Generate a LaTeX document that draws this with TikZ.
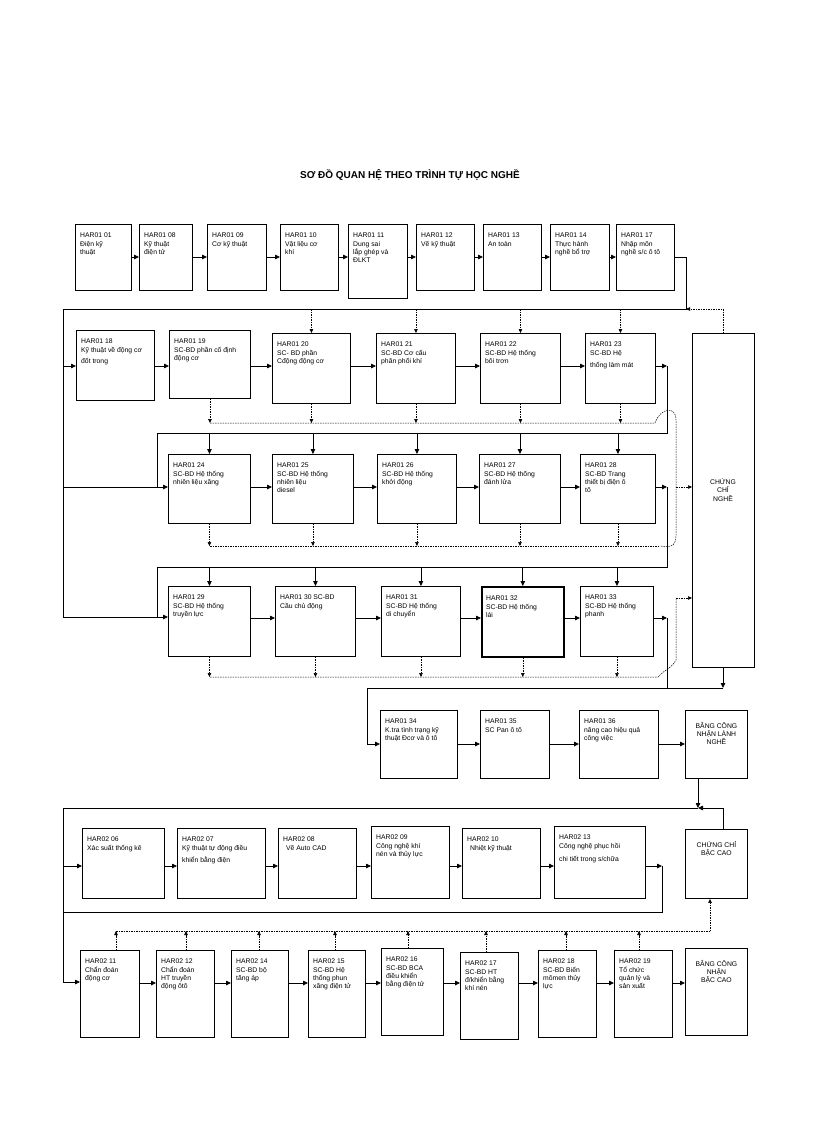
\documentclass[tikz,border=0pt]{standalone}
\usepackage{fontspec}
\setmainfont{Liberation Sans}
\usetikzlibrary{arrows.meta}
\tikzset{
  bx/.style={draw,line width=0.9pt,inner sep=0pt},
  txt/.style={inner sep=0pt,font=\fontsize{6.8}{8.2}\selectfont},
  ar/.style={line width=0.8pt,-{Triangle[length=5pt,width=4.5pt]}},
  ln/.style={line width=0.8pt},
  dsh/.style={line width=0.5pt,dash pattern=on 1.5pt off 1pt},
  dar/.style={dsh,-{Triangle[length=4pt,width=3.5pt]}},
}
\newcommand\bx[6]{%
  \node[bx,minimum width={(#4-#2)*1pt},minimum height={(#5-#3)*1pt},anchor=north west] (#1) at (#2,#3) {};
  \node[txt,anchor=north west] (#1t) at ([xshift=5pt,yshift=-9pt]#1.north west)
     {\parbox{\dimexpr #4pt-#2pt-7pt\relax}{\raggedright #6}};}
\newcommand\bxc[6]{%
  \node[bx,minimum width={(#4-#2)*1pt},minimum height={(#5-#3)*1pt},anchor=north west] (#1) at (#2,#3) {};
  \node[txt,anchor=north,align=center] (#1t) at ([yshift=-12pt]#1.north) {#6};}
\begin{document}
\begin{tikzpicture}[x=1pt,y=-1pt]
\useasboundingbox (0,0) rectangle (816,1123);
\node[font=\bfseries\fontsize{10}{12}\selectfont] (title) at (410,175) {SƠ ĐỒ QUAN HỆ THEO TRÌNH TỰ HỌC NGHỀ};

% Row 1
\bx{r1}{75}{224}{131}{290}{HAR01 01\\Điện kỹ\\thuật}
\bx{r2}{139}{224}{192}{290}{HAR01 08\\Kỹ thuật\\điện tử}
\bx{r3}{207}{224}{266}{290}{HAR01 09\\Cơ kỹ thuật}
\bx{r4}{280}{224}{338}{290}{HAR01 10\\Vật liệu cơ\\khí}
\bx{r5}{348}{224}{407}{298}{HAR01 11\\Dung sai\\lắp ghép và\\ĐLKT}
\bx{r6}{416}{224}{474}{290}{HAR01 12\\Vẽ kỹ thuật}
\bx{r7}{483}{224}{541}{290}{HAR01 13\\An toàn}
\bx{r8}{550}{224}{609}{290}{HAR01 14\\Thực hành\\nghề bổ trợ}
\bx{r9}{616}{224}{674}{290}{HAR01 17\\Nhập môn\\nghề s/c ô tô}
\foreach \a/\b in {r1/r2,r2/r3,r3/r4,r4/r5,r5/r6,r6/r7,r7/r8,r8/r9}
  \draw[ar] (\a.east|-0,257) -- (\b.west|-0,257);

% Row 2
\bx{s1}{76}{330}{154}{400}{HAR01 18\\Kỹ thuật về động cơ\\[3pt]đốt trong}
\bx{s2}{169}{330}{250}{398}{HAR01 19\\SC-BD phần cố định\\động cơ}
\bx{s3}{272}{333}{350}{403}{HAR01 20\\SC- BD phần\\Cđộng động cơ}
\bx{s4}{376}{333}{455}{403}{HAR01 21\\SC-BD Cơ cấu\\phân phối khí}
\bx{s5}{480}{333}{560}{403}{HAR01 22\\SC-BD Hệ thống\\bôi trơn}
\bx{s6}{585}{333}{655}{403}{HAR01 23\\SC-BD Hệ\\[4pt]thống làm mát}
\foreach \a/\b in {s1/s2,s2/s3,s3/s4,s4/s5,s5/s6}
  \draw[ar] (\a.east|-0,366) -- (\b.west|-0,366);

% Row 3
\bx{t1}{168}{454}{250}{523}{HAR01 24\\SC-BD Hệ thống\\nhiên liệu xăng}
\bx{t2}{272}{454}{353}{523}{HAR01 25\\SC-BD Hệ thống\\nhiên liệu\\diesel}
\bx{t3}{377}{454}{456}{523}{HAR01 26\\SC-BD Hệ thống\\khởi động}
\bx{t4}{479}{454}{560}{523}{HAR01 27\\SC-BD Hệ thống\\đánh lửa}
\bx{t5}{580}{454}{655}{523}{HAR01 28\\SC-BD Trang\\thiết bị điện ô\\tô}
\foreach \a/\b in {t1/t2,t2/t3,t3/t4,t4/t5}
  \draw[ar] (\a.east|-0,487) -- (\b.west|-0,487);

% Row 4
\bx{u1}{168}{586}{250}{656}{HAR01 29\\SC-BD  Hệ thống\\truyền lực}
\bx{u2}{275}{586}{355}{656}{HAR01 30 SC-BD\\Cầu chủ động}
\bx{u3}{381}{586}{460}{656}{HAR01 31\\SC-BD Hệ thống\\di chuyển}
\node[bx,line width=1.6pt,minimum width=82pt,minimum height=70pt,anchor=north west] (u4) at (481,586) {};
\node[txt,anchor=north west] (u4t) at ([xshift=5pt,yshift=-10pt]u4.north west) {\parbox{72pt}{\raggedright HAR01 32\\SC-BD Hệ thống\\lái}};
\bx{u5}{580}{586}{653}{656}{HAR01 33\\SC-BD Hệ thống\\phanh}
\foreach \a/\b in {u1/u2,u2/u3,u3/u4,u4/u5}
  \draw[ar] (\a.east|-0,618) -- (\b.west|-0,618);

% Chung chi nghe
\node[bx,minimum width=62pt,minimum height=334pt,anchor=north west] (cc) at (692,333) {};
\node[txt,align=center] (cct) at (723,490) {CHỨNG\\CHỈ\\NGHỀ};

% Row 1 -> left trunk
\coordinate (k1) at (686,309);
\coordinate (k2) at (63,309);
\coordinate (k3) at (63,617);
\draw[ln] (r9.east|-0,257) -| (k1) -- (k2) -- (k3);
\draw[ar] (63,366) -- (s1.west|-0,366);
\draw[ar] (63,487) -- (t1.west|-0,487);
\draw[ar] (k3) -- (u1.west|-k3);
\coordinate (k4) at (723,309);
\draw[dar] (cc.north-|k4) -- (k4) -- (k1);
\foreach \n in {s3,s4,s5,s6} \draw[dar] (\n.north|-k1) -- (\n.north);

% Row 2 -> row 3
\coordinate (m1) at (667,366);
\draw[ar] (s6.east|-m1) -- (m1);
\draw[ln] (m1) -- (667,433) -- (157,433) -- (157,487);
\foreach \n in {t1,t2,t3,t4,t5} \draw[ar] (\n.north|-0,433) -- (\n.north);
\foreach \n in {s2,s3,s4,s5,s6} \draw[dar] (\n.south) -- (\n.south|-0,423);
\draw[dsh] (210,423) -- (655,423) .. controls (660,408) and (676,405) .. (676,420) -- (676,536) .. controls (676,548) and (668,547) .. (660,546);
\draw[dar] (676,487) -- (cc.west|-0,487);

% Row 3 -> row 4
\coordinate (m2) at (667,487);
\draw[ar] (t5.east|-m2) -- (m2);
\draw[ln] (m2) -- (667,567) -- (157,567) -- (157,618);
\foreach \n in {u1,u2,u3,u4,u5} \draw[ar] (\n.north|-0,567) -- (\n.north);
\foreach \n in {t1,t2,t3,t4,t5} \draw[dar] (\n.south) -- (\n.south|-0,546);
\draw[dsh] (210,546) -- (660,546);
\foreach \n in {u1,u2,u3,u4,u5} \draw[dar] (\n.south) -- (\n.south|-0,677);
\draw[dsh] (210,677) -- (658,677) .. controls (664,670) and (672,668) .. (676,660) -- (676,598);
\draw[dar] (676,598) -- (cc.west|-0,598);

% Row 4 -> row 5
\coordinate (m3) at (667,618);
\draw[ar] (u5.east|-m3) -- (m3);
\draw[ln] (m3) -- (667,688);
\coordinate (m4) at (723,688);
\draw[ar] (cc.south-|m4) -- (m4);
\draw[ln] (m4) -- (367,688) -- (367,744);

% Row 5
\bx{v1}{380}{710}{457}{778}{HAR01 34\\K.tra tình trạng kỹ\\thuật Đcơ và ô tô}
\bx{v2}{480}{710}{549}{778}{HAR01 35\\SC Pan ô tô}
\bx{v3}{579}{710}{658}{778}{HAR01 36\\nâng cao hiệu quả\\công việc}
\bxc{v4}{685}{710}{747}{778}{BẰNG CÔNG\\NHẬN LÀNH\\NGHỀ}
\draw[ar] (367,744) -- (v1.west|-0,744);
\foreach \a/\b in {v1/v2,v2/v3,v3/v4}
  \draw[ar] (\a.east|-0,744) -- (\b.west|-0,744);

% Row 6
\bx{w1}{82}{828}{164}{898}{HAR02 06\\Xác suất thống kê}
\bx{w2}{177}{828}{265}{898}{HAR02 07\\Kỹ thuật tự động điều\\[4pt]khiển bằng điện}
\bx{w3}{278}{828}{356}{898}{HAR02 08\\\hspace*{3pt}Vẽ Auto CAD}
\bx{w4}{371}{826}{449}{898}{HAR02 09\\Công nghệ khí\\nén và thủy lực}
\bx{w5}{462}{828}{540}{898}{HAR02 10\\\hspace*{3pt}Nhiệt kỹ thuật}
\bx{w6}{554}{826}{645}{898}{HAR02 13\\Công nghệ phục hồi\\[5pt]chi tiết trong s/chữa}
\bxc{cb}{685}{829}{747}{898}{CHỨNG CHỈ\\BẬC CAO}
\foreach \a/\b in {w1/w2,w2/w3,w3/w4,w4/w5,w5/w6}
  \draw[ar] (\a.east|-0,866) -- (\b.west|-0,866);

% Row 5 -> row 6
\coordinate (n1) at (698,808);
\coordinate (n2) at (723,808);
\draw[ar] (v4.south-|n1) -- (n1);
\draw[ln] (cb.north-|n2) -- (n2);
\draw[ar] (n2) -- (n1);
\draw[ln] (n1) -- (63,808) -- (63,982);
\draw[ar] (63,866) -- (w1.west|-0,866);

% Row 6 -> row 7
\coordinate (n3) at (662,866);
\draw[ar] (w6.east|-n3) -- (n3);
\draw[ln] (n3) -- (662,912) -- (63,912);

% Row 7
\bx{x1}{80}{950}{139}{1037}{HAR02 11\\Chẩn đoán\\động cơ}
\bx{x2}{156}{950}{214}{1037}{HAR02 12\\Chẩn đoán\\HT truyền\\động ôtô}
\bx{x3}{231}{950}{288}{1037}{HAR02 14\\SC-BD bộ\\tăng áp}
\bx{x4}{308}{950}{365}{1037}{HAR02 15\\SC-BD Hệ\\thống phun\\xăng điện tử}
\bx{x5}{381}{948}{443}{1035}{HAR02 16\\SC-BD BCA\\điều khiển\\bằng điện tử}
\bx{x6}{460}{952}{518}{1039}{HAR02 17\\SC-BD HT\\đ/khiển bằng\\khí nén}
\bx{x7}{538}{950}{596}{1037}{HAR02 18\\SC-BD Biến\\mômen thủy\\lực}
\bx{x8}{614}{950}{672}{1037}{HAR02 19\\Tổ chức\\quản lý và\\sản xuất}
\bxc{x9}{685}{948}{747}{1035}{BẰNG CÔNG\\NHẬN\\BẬC CAO}
\draw[ar] (63,982) -- (x1.west|-0,982);
\foreach \a/\b in {x1/x2,x2/x3,x3/x4,x4/x5,x5/x6,x6/x7,x7/x8,x8/x9}
  \draw[ar] (\a.east|-0,983) -- (\b.west|-0,983);

% Dashed row 7 -> Chung chi bac cao
\draw[dsh] (116,931) -- (710,931);
\foreach \n/\xx in {x1/116,x2/186,x3/259,x4/335,x5/408,x6/486,x7/566,x8/639}
  \draw[dar] (\n.north-|\xx,0) -- (\xx,931);
\draw[dar] (710,931) -- (cb.south-|710,0);
\end{tikzpicture}
\end{document}
